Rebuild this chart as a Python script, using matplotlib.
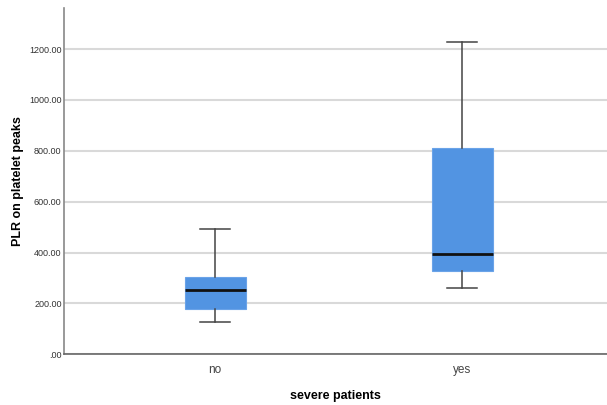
import matplotlib
matplotlib.use("Agg")
import matplotlib.pyplot as plt

plt.rcParams['font.family'] = ['Liberation Sans', 'DejaVu Sans']

groups = ['no', 'yes']
whis_lo = [126, 261]
q1 = [179, 329]
median = [252, 394]
q3 = [305, 810]
whis_hi = [491, 1226]

yticks = [0, 200, 400, 600, 800, 1000, 1200]

stats = []
for i in range(len(groups)):
    stats.append({'label': groups[i], 'whislo': whis_lo[i], 'q1': q1[i],
                  'med': median[i], 'q3': q3[i], 'whishi': whis_hi[i]})

fig = plt.figure(figsize=(6.07, 4.05), dpi=100)
ax = fig.add_axes([0.106, 0.1252, 0.894, 0.8543])

ax.bxp(stats, positions=[1, 2], widths=0.247, capwidths=0.122, patch_artist=True,
       showfliers=False,
       boxprops=dict(facecolor='#5294e2', edgecolor='#6aa3e8', linewidth=0.8),
       medianprops=dict(color='#111111', linewidth=2.0),
       whiskerprops=dict(color='#444444', linewidth=1.1),
       capprops=dict(color='#444444', linewidth=1.1), zorder=3)

ax.set_xlim(0.39, 2.587)
ax.set_ylim(0, 1360)
ax.set_yticks(yticks)
ax.set_yticklabels(['.00'] + ['%.2f' % v for v in yticks[1:]], fontsize=6.5, color='#333333')
ax.set_xticks([1, 2])
ax.set_xticklabels(groups, fontsize=8.5, color='#444444')
ax.tick_params(axis='both', length=0)
ax.tick_params(axis='x', pad=7)
ax.tick_params(axis='y', pad=2)

ax.yaxis.grid(True, color='#d9d9d9', linewidth=1.5, zorder=0)
ax.set_axisbelow(True)
for s in ['top', 'right']:
    ax.spines[s].set_visible(False)
ax.spines['left'].set_color('#888888')
ax.spines['bottom'].set_color('#666666')
ax.spines['left'].set_linewidth(1.2)
ax.spines['bottom'].set_linewidth(1.2)

ax.set_xlabel('severe patients', fontsize=9, fontweight='bold', labelpad=10)
ax.set_ylabel('PLR on platelet peaks', fontsize=9, fontweight='bold', labelpad=4)

plt.savefig('out.png', dpi=100)
